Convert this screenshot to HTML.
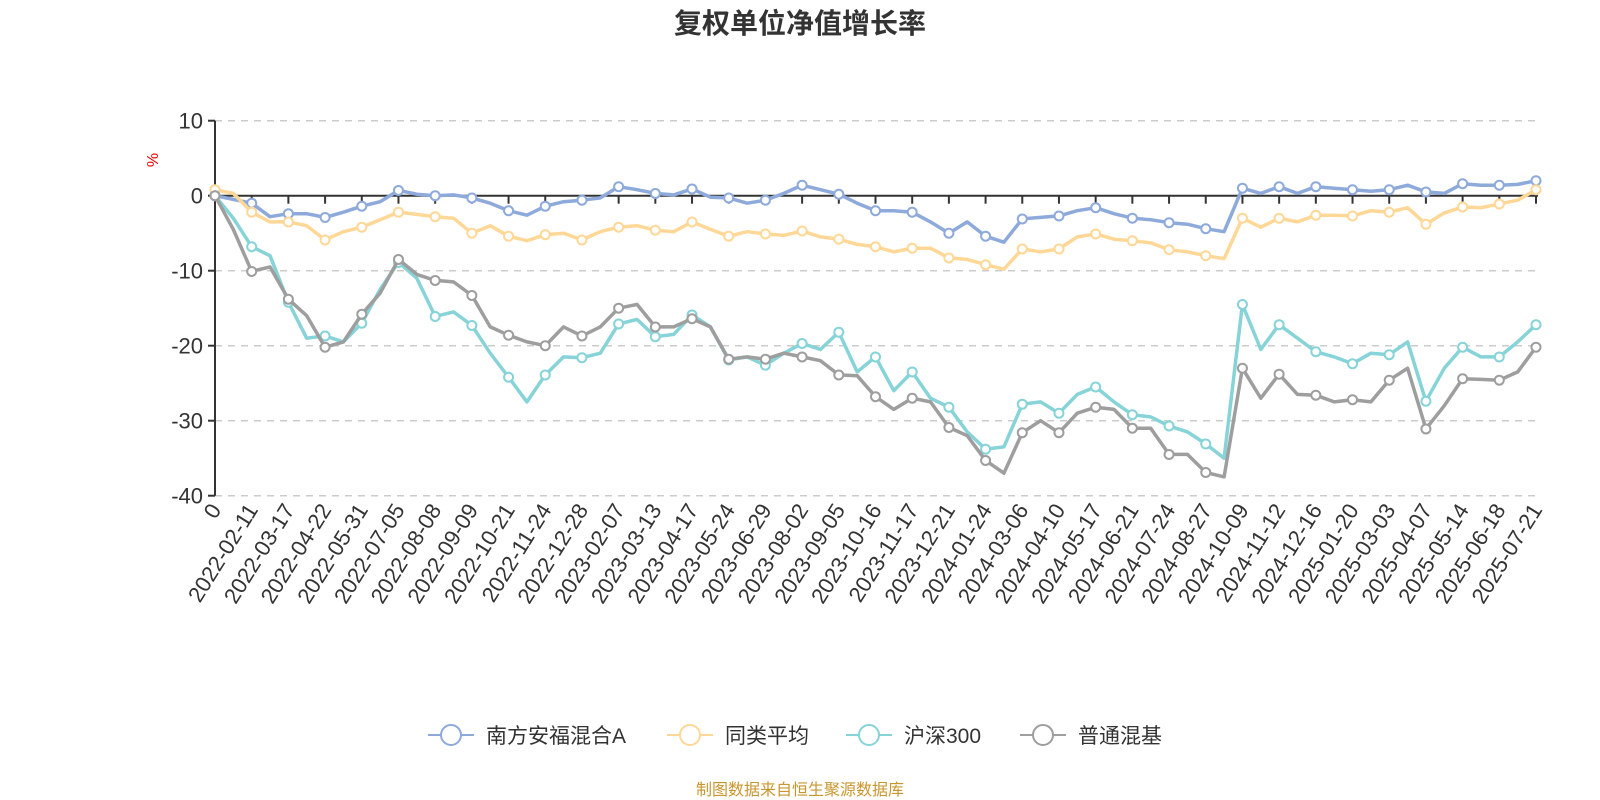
<!DOCTYPE html>
<html><head><meta charset="utf-8"><style>
html,body{margin:0;padding:0;background:#fff;}
svg{display:block;font-family:"Liberation Sans","Noto Sans CJK SC",sans-serif;}
</style></head><body>
<svg id="chart" width="1600" height="800" viewBox="0 0 1600 800">
<text x="800" y="33" text-anchor="middle" font-size="28" font-weight="bold" fill="#333">复权单位净值增长率</text>
<text x="0" y="0" transform="translate(158,160) rotate(-90)" text-anchor="middle" font-size="16" fill="#e00">%</text>
<g id="grid"></g><g id="axes"></g><g id="series"></g>
<g id="legend"></g>
<text x="800" y="795" text-anchor="middle" font-size="16" fill="#c9962e">制图数据来自恒生聚源数据库</text>
</svg>
<script>
const labels=["0","2022-02-11","2022-03-17","2022-04-22","2022-05-31","2022-07-05","2022-08-08","2022-09-09","2022-10-21","2022-11-24","2022-12-28","2023-02-07","2023-03-13","2023-04-17","2023-05-24","2023-06-29","2023-08-02","2023-09-05","2023-10-16","2023-11-17","2023-12-21","2024-01-24","2024-03-06","2024-04-10","2024-05-17","2024-06-21","2024-07-24","2024-08-27","2024-10-09","2024-11-12","2024-12-16","2025-01-20","2025-03-03","2025-04-07","2025-05-14","2025-06-18","2025-07-21"];
const yTicks=[10,0,-10,-20,-30,-40];
const seriesNames=["南方安福混合A","同类平均","沪深300","普通混基"];
// values at half-label steps (index 0, 0.5, 1, 1.5 ...)
const fundA=[0,-0.5,-1.0,-2.8,-2.4,-2.4,-2.9,-2.2,-1.4,-0.8,0.7,0.2,0,0.1,-0.3,-1.0,-2.0,-2.6,-1.4,-0.8,-0.6,-0.3,1.2,0.8,0.3,0.1,0.9,-0.2,-0.3,-1.0,-0.6,0.3,1.4,0.8,0.2,-1.0,-2.0,-2.0,-2.2,-3.5,-5.0,-3.5,-5.4,-6.2,-3.1,-2.9,-2.7,-2.0,-1.6,-2.4,-3.0,-3.2,-3.6,-3.8,-4.4,-4.8,1.0,0.3,1.2,0.3,1.2,1.0,0.8,0.6,0.8,1.4,0.5,0.3,1.6,1.4,1.4,1.5,2.0];
const peerAvg=[0.8,0.3,-2.2,-3.5,-3.5,-4.0,-5.9,-4.8,-4.2,-3.2,-2.2,-2.5,-2.8,-3.0,-5.0,-4.0,-5.4,-6.0,-5.2,-5.0,-5.9,-4.8,-4.2,-4.0,-4.6,-4.8,-3.5,-4.5,-5.4,-4.8,-5.1,-5.3,-4.7,-5.5,-5.8,-6.5,-6.8,-7.5,-7.0,-7.0,-8.3,-8.5,-9.2,-9.8,-7.1,-7.5,-7.1,-5.5,-5.1,-5.8,-6.0,-6.3,-7.2,-7.5,-8.0,-8.4,-3.0,-4.2,-3.0,-3.5,-2.6,-2.6,-2.7,-2.0,-2.2,-1.6,-3.8,-2.3,-1.5,-1.6,-1.1,-0.6,0.8];
const hs300=[0,-3.0,-6.8,-8.0,-14.2,-19.0,-18.7,-19.5,-17.0,-12.5,-8.9,-11.0,-16.1,-15.5,-17.3,-21.0,-24.2,-27.5,-23.9,-21.5,-21.6,-21.0,-17.1,-16.5,-18.8,-18.5,-15.9,-17.5,-21.9,-21.5,-22.6,-21.0,-19.7,-20.5,-18.2,-23.5,-21.5,-26.0,-23.5,-27.0,-28.2,-31.5,-33.8,-33.5,-27.8,-27.5,-29.0,-26.5,-25.5,-27.5,-29.2,-29.5,-30.7,-31.5,-33.1,-35.0,-14.5,-20.5,-17.2,-19.0,-20.8,-21.5,-22.4,-21.0,-21.2,-19.5,-27.4,-23.0,-20.2,-21.5,-21.5,-19.5,-17.2];
const mixFund=[0,-4.5,-10.1,-9.5,-13.8,-16.0,-20.2,-19.5,-15.8,-13.0,-8.5,-10.5,-11.3,-11.5,-13.3,-17.5,-18.6,-19.5,-20.0,-17.5,-18.7,-17.5,-15.0,-14.5,-17.5,-17.5,-16.4,-17.5,-21.8,-21.5,-21.8,-21.0,-21.5,-22.0,-23.9,-24.0,-26.8,-28.5,-27.0,-27.5,-30.9,-32.0,-35.3,-37.0,-31.6,-30.0,-31.6,-29.0,-28.2,-28.5,-31.0,-31.0,-34.5,-34.5,-36.9,-37.5,-23.0,-27.0,-23.8,-26.5,-26.6,-27.5,-27.2,-27.5,-24.6,-23.0,-31.1,-28.0,-24.4,-24.5,-24.6,-23.5,-20.2];
const colors=["#8eaadb","#ffd897","#86d3d8","#9e9e9e"];
const allSeries=[fundA,peerAvg,hs300,mixFund];
const NS="http://www.w3.org/2000/svg";
const X0=215,X1=1536,Y10=120.7,UNIT=7.5;
const xScale=i=>X0+i*(X1-X0)/(labels.length-1);
const yScale=v=>Y10+(10-v)*UNIT;
function mk(t,a,p){const e=document.createElementNS(NS,t);for(const k in a)e.setAttribute(k,a[k]);(p||document.getElementById('chart')).appendChild(e);return e;}
const grid=document.getElementById('grid'),axes=document.getElementById('axes'),ser=document.getElementById('series'),leg=document.getElementById('legend');
yTicks.forEach(v=>{
  if(v!==0){const g=mk('line',{x1:X0,x2:X1,y1:yScale(v),y2:yScale(v),stroke:'#ccc','stroke-width':1.5,'stroke-dasharray':'7,6'},grid);
  
  }
  const tk=mk('line',{x1:X0-7,x2:X0,y1:yScale(v),y2:yScale(v),stroke:'#333','stroke-width':2},axes);
  
  
  const t=mk('text',{x:X0-12,y:yScale(v)+8,'text-anchor':'end','font-size':22,fill:'#333'},axes);
  t.textContent=v;
  
  
});
const ya=mk('line',{x1:X0,x2:X0,y1:yScale(10),y2:yScale(-40),stroke:'#333','stroke-width':2},axes);


const xa=mk('line',{x1:X0,x2:X1+2,y1:yScale(0),y2:yScale(0),stroke:'#333','stroke-width':2},axes);


labels.forEach((l,i)=>{
  const x=xScale(i);
  const tk=mk('line',{x1:x,x2:x,y1:yScale(0),y2:yScale(0)+8,stroke:'#333','stroke-width':2},axes);
  
  
  const t=mk('text',{x:0,y:0,transform:`translate(${x+7},${yScale(-40)+14}) rotate(-58)`,'text-anchor':'end','font-size':22,fill:'#333'},axes);
  t.textContent=l;
  
  
});
allSeries.forEach((s,k)=>{
  const d=s.map((v,j)=>(j?'L':'M')+xScale(j/2).toFixed(1)+','+yScale(v).toFixed(1)).join('');
  const p=mk('path',{d,fill:'none',stroke:colors[k],'stroke-width':3.5,'stroke-linejoin':'round'},ser);
  
  
  s.forEach((v,j)=>{if(j%2)return;
    const c=mk('circle',{cx:xScale(j/2),cy:yScale(v),r:4.5,fill:'#fff',stroke:colors[k],'stroke-width':2},ser);
    
    
  });
});
const legX=[428,667,846,1020];
seriesNames.forEach((n,k)=>{
  const x=legX[k],y=735;
  const g=mk('g',{},leg);
  
  
  mk('line',{x1:x,x2:x+46,y1:y,y2:y,stroke:colors[k],'stroke-width':2},g);
  mk('circle',{cx:x+23,cy:y,r:10,fill:'#fff',stroke:colors[k],'stroke-width':2},g);
  const t=mk('text',{x:x+58,y:y+8,'font-size':21,fill:'#333'},g);
  t.textContent=n;
});
</script>
</body></html>
